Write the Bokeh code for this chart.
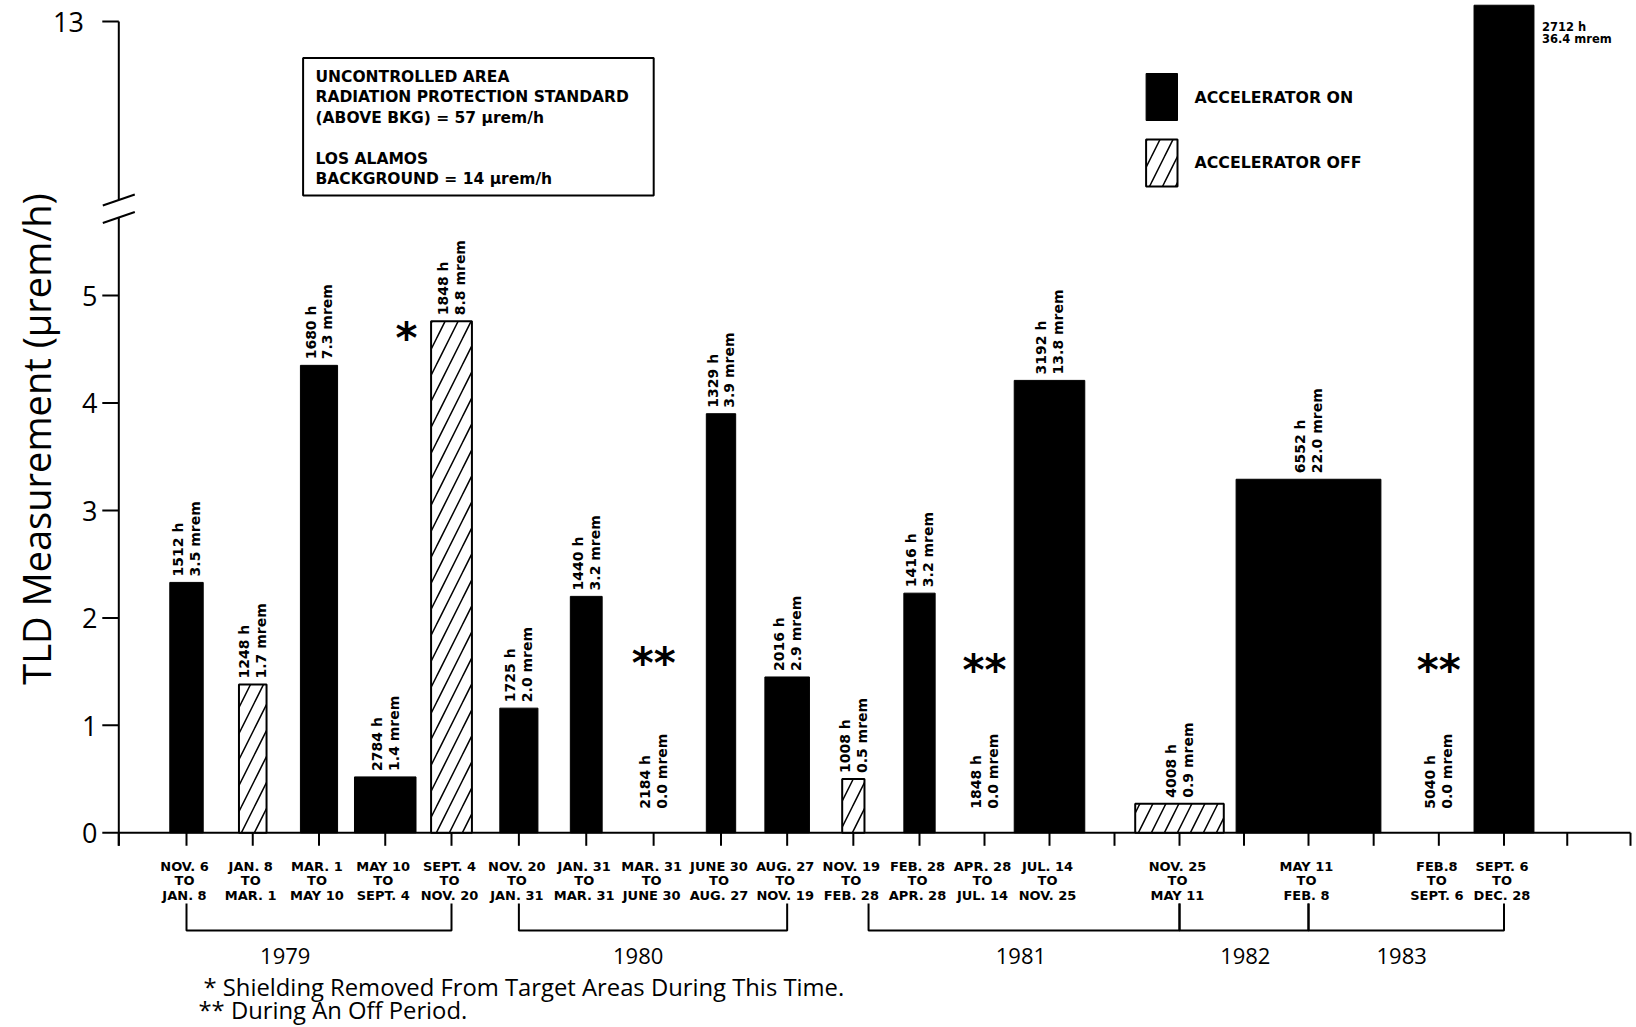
import math
import numpy as np
from bokeh.plotting import figure
from bokeh.models import Range1d, LinearAxis, FixedTicker, ColumnDataSource
from bokeh.core.properties import value
from bokeh.embed import file_html
from bokeh.resources import INLINE

# ---------------- data ----------------
period_start = ["NOV. 6", "JAN. 8", "MAR. 1", "MAY 10", "SEPT. 4", "NOV. 20", "JAN. 31",
                "MAR. 31", "JUNE 30", "AUG. 27", "NOV. 19", "FEB. 28", "APR. 28", "JUL. 14",
                "NOV. 25", "MAY 11", "FEB.8", "SEPT. 6"]
period_end = ["JAN. 8", "MAR. 1", "MAY 10", "SEPT. 4", "NOV. 20", "JAN. 31", "MAR. 31",
              "JUNE 30", "AUG. 27", "NOV. 19", "FEB. 28", "APR. 28", "JUL. 14", "NOV. 25",
              "MAY 11", "FEB. 8", "SEPT. 6", "DEC. 28"]
period_slot = [1, 2, 3, 4, 5, 6, 7, 8, 9, 10, 11, 12, 13, 14, 16, 18, 20, 21]
hours = [1512, 1248, 1680, 2784, 1848, 1725, 1440, 2184, 1329, 2016, 1008, 1416, 1848, 3192,
         4008, 6552, 5040, 2712]
dose_mrem = ["3.5", "1.7", "7.3", "1.4", "8.8", "2.0", "3.2", "0.0", "3.9", "2.9", "0.5", "3.2",
             "0.0", "13.8", "0.9", "22.0", "0.0", "36.4"]
rate_urem_h = [2.33, 1.38, 4.35, 0.52, 4.76, 1.16, 2.20, 0.0, 3.90, 1.45, 0.50, 2.23, 0.0, 4.21,
               0.27, 3.29, 0.0, 13.42]
accelerator = ["ON", "OFF", "ON", "ON", "OFF", "ON", "ON", "NONE", "ON", "ON", "OFF", "ON", "NONE",
               "ON", "OFF", "ON", "NONE", "ON"]

year_names = ["1979", "1980", "1981", "1982", "1983"]
year_first_slot = [1, 6, 11.23, 16, 18]
year_last_slot = [5, 10, 16, 18, 21]
year_label_slot = [2.49, 7.77, 13.56, 17.02, 19.43]

y_tick_values = [0, 1, 2, 3, 4, 5, 13]
n_slots = 23

shielding_slot, shielding_rate = 4.32, 4.66
off_note_slots = [8, 13, 20]
off_note_rates = [1.63, 1.57, 1.57]

y_title = "TLD Measurement (\u00b5rem/h)"
box_lines_1 = "UNCONTROLLED AREA\nRADIATION PROTECTION STANDARD\n(ABOVE BKG) = 57 \u00b5rem/h"
box_lines_2 = "LOS ALAMOS\nBACKGROUND = 14 \u00b5rem/h"
footnote_1 = "* Shielding Removed From Target Areas During This Time."
footnote_2 = "** During An Off Period."

# ---------------- layout constants (page pixels) ----------------
W, H = 1634, 1025
FRAME_LEFT = 101           # left edge of the plotting frame
AXIS_X = 118.3             # x of the value axis (slot 0)
PXX = 65.73                # px per data unit along x
Y0 = 832.3                 # y of zero
PXY = 107.46
BREAK_AT = 6.0
UPPER_BASE = 7.55          # plotted position of 13
UPPER_SCALE = 0.36
BAR_PX_PER_HOUR = 0.0221
# the hand-drawn time axis is slightly uneven: where some slots sit on the page
SLOT_ANCHORS = [0, 1, 5, 9, 12, 14, 16, 18, 21, 23]
SLOT_ANCHOR_PX = [118.3, 186, 451, 720.5, 919, 1049, 1179, 1308, 1503.5, 1630]


def yplot(v):
    return v if v <= BREAK_AT else UPPER_BASE + (v - 13) * UPPER_SCALE


def page_x(px):
    return (px - AXIS_X) / PXX


def page_y(py):
    return (Y0 - py) / PXY


def xs_of(slot):
    return page_x(float(np.interp(slot, SLOT_ANCHORS, SLOT_ANCHOR_PX)))


def dx(px):
    return px / PXX


def dy(px):
    return px / PXY


BOLD = value("DejaVu Sans")
SANS = value("Open Sans")

p = figure(width=W, height=H,
           x_range=Range1d(page_x(FRAME_LEFT), page_x(W)),
           y_range=Range1d(page_y(H), page_y(0)),
           x_axis_location=None, y_axis_location=None,
           toolbar_location=None, output_backend="svg",
           min_border_left=FRAME_LEFT, min_border_right=0,
           min_border_top=0, min_border_bottom=0,
           outline_line_color=None, background_fill_color="white",
           border_fill_color="white")
p.xgrid.visible = False
p.ygrid.visible = False

# ---------------- value axis (labels + title from Bokeh) ----------------
tick_pos = [yplot(v) for v in y_tick_values]
overrides = {}
for v, t in zip(y_tick_values, tick_pos):
    lab = str(v) + ("\u2002" if v > 9 else "")
    overrides[t] = lab
    overrides[str(t)] = lab
title_pad = "\u00a0" * 15
yaxis = LinearAxis(ticker=FixedTicker(ticks=tick_pos), major_label_overrides=overrides,
                   axis_label=title_pad + y_title,
                   axis_line_color=None, major_tick_line_color=None,
                   minor_tick_line_color=None, major_tick_out=0, major_tick_in=0,
                   major_label_standoff=4, axis_label_standoff=-12,
                   major_label_text_font="Open Sans", major_label_text_font_size="27px",
                   major_label_text_color="black",
                   axis_label_text_font="Open Sans", axis_label_text_font_size="38px",
                   axis_label_text_font_style="normal", axis_label_text_color="black")
p.add_layout(yaxis, "left")

# axis line with break
brk_lo, brk_hi = page_y(217), page_y(199.5)
p.segment(x0=[0, 0], y0=[-dy(13), brk_hi], x1=[0, 0], y1=[brk_lo, yplot(13)],
          line_color="black", line_width=2)
p.segment(x0=[-dx(16)] * 2, y0=[brk_lo - dy(5.5), brk_hi - dy(5.5)],
          x1=[dx(16)] * 2, y1=[brk_lo + dy(5.5), brk_hi + dy(5.5)],
          line_color="black", line_width=2)
p.segment(x0=[-dx(16.5)] * len(tick_pos), y0=tick_pos, x1=[0] * len(tick_pos), y1=tick_pos,
          line_color="black", line_width=2)

# time axis
tick_x = [xs_of(k) for k in range(n_slots + 1)]
p.segment(x0=[tick_x[0]], y0=[0], x1=[tick_x[-1]], y1=[0], line_color="black", line_width=2)
p.segment(x0=tick_x, y0=[0] * len(tick_x), x1=tick_x, y1=[-dy(13)] * len(tick_x),
          line_color="black", line_width=2)

# ---------------- bars ----------------
bar_x = [xs_of(s) for s in period_slot]
bar_w = [h * BAR_PX_PER_HOUR / PXX for h in hours]


def subset(kind):
    idx = [i for i, a in enumerate(accelerator) if a == kind]
    return ColumnDataSource(dict(x=[bar_x[i] for i in idx], w=[bar_w[i] for i in idx],
                                 top=[yplot(rate_urem_h[i]) for i in idx]))


p.vbar(x="x", width="w", top="top", bottom=0, source=subset("ON"),
       fill_color="black", line_color="black", line_width=1)
p.vbar(x="x", width="w", top="top", bottom=0, source=subset("OFF"),
       fill_color="white", line_color="black", line_width=2,
       hatch_pattern="/", hatch_color="black", hatch_scale=26, hatch_weight=1.5)

# ---------------- rotated value labels ----------------
lab_x, lab_y, lab_t = [], [], []
for i in range(len(hours)):
    if rate_urem_h[i] > BREAK_AT:
        continue
    lab_x.append(bar_x[i])
    lab_y.append(max(yplot(rate_urem_h[i]), dy(18)))
    lab_t.append(f"{hours[i]} h\n{dose_mrem[i]} mrem")
p.text(x=lab_x, y=lab_y, text=lab_t, angle=math.pi / 2, text_align="left",
       text_baseline="middle", y_offset=-6, text_font=BOLD, text_font_style="bold",
       text_font_size="14px", text_line_height=1.05, text_color="black")

# label for the tall bar (beside it)
tall = [i for i in range(len(hours)) if rate_urem_h[i] > BREAK_AT]
p.text(x=[bar_x[i] + bar_w[i] / 2 for i in tall],
       y=[yplot(rate_urem_h[i]) for i in tall],
       text=[f"{hours[i]} h\n{dose_mrem[i]} mrem" for i in tall],
       x_offset=8, y_offset=15, text_align="left", text_baseline="top",
       text_font=BOLD, text_font_style="bold", text_font_size="11.5px",
       text_line_height=0.86, text_color="black")

# ---------------- period labels under the axis ----------------
p.text(x=bar_x, y=[0] * len(bar_x),
       text=[f"{a}\nTO\n{b}" for a, b in zip(period_start, period_end)],
       x_offset=-2, y_offset=26, text_align="center", text_baseline="top",
       text_font=BOLD, text_font_style="bold", text_font_size="13px",
       text_line_height=0.96, text_color="black")

# year brackets
b_top, b_bot = page_y(903), page_y(930)
bx, by = [], []
for a, b in zip(year_first_slot, year_last_slot):
    bx.append([xs_of(a), xs_of(a), xs_of(b), xs_of(b)])
    by.append([b_top, b_bot, b_bot, b_top])
p.multi_line(xs=bx, ys=by, line_color="black", line_width=2)
p.text(x=[xs_of(s) for s in year_label_slot], y=[page_y(955)] * len(year_names),
       text=year_names, text_align="center", text_baseline="middle", text_font=SANS,
       text_font_size="22px", text_color="black")

# footnotes
p.text(x=[page_x(203), page_x(198)], y=[page_y(986), page_y(1009)],
       text=[footnote_1, footnote_2], text_align="left", text_baseline="middle",
       text_font=SANS, text_font_size="23.8px", text_color="black")

# asterisk markers
p.text(x=[xs_of(shielding_slot)], y=[shielding_rate], text=["*"], text_align="center",
       text_baseline="alphabetic", y_offset=6, text_font=BOLD, text_font_style="bold",
       text_font_size="42px", text_color="black")
p.text(x=[xs_of(s) for s in off_note_slots], y=off_note_rates,
       text=["**"] * len(off_note_slots), text_align="center", text_baseline="alphabetic",
       y_offset=6, text_font=BOLD, text_font_style="bold", text_font_size="42px",
       text_color="black")

# ---------------- info box ----------------
p.quad(left=[page_x(302.6)], right=[page_x(653.2)], top=[page_y(57.4)], bottom=[page_y(195.1)],
       fill_color="white", line_color="black", line_width=2)
p.text(x=[page_x(315)] * 2, y=[page_y(67), page_y(149)], text=[box_lines_1, box_lines_2],
       text_align="left", text_baseline="top", text_font=BOLD, text_font_style="bold",
       text_font_size="15.5px", text_line_height=1.15, text_color="black")

# ---------------- legend ----------------
p.quad(left=[page_x(1145.6)], right=[page_x(1177)], top=[page_y(73)], bottom=[page_y(120)],
       fill_color="black", line_color="black", line_width=1)
p.quad(left=[page_x(1145.6)], right=[page_x(1177)], top=[page_y(139)], bottom=[page_y(186)],
       fill_color="white", line_color="black", line_width=2,
       hatch_pattern="/", hatch_color="black", hatch_scale=26, hatch_weight=1.5)
p.text(x=[page_x(1194)] * 2, y=[page_y(97), page_y(162)],
       text=["ACCELERATOR ON", "ACCELERATOR OFF"], text_align="left",
       text_baseline="middle", text_font=BOLD, text_font_style="bold",
       text_font_size="15.8px", text_color="black")

open("out.html", "w").write(file_html(p, INLINE))
